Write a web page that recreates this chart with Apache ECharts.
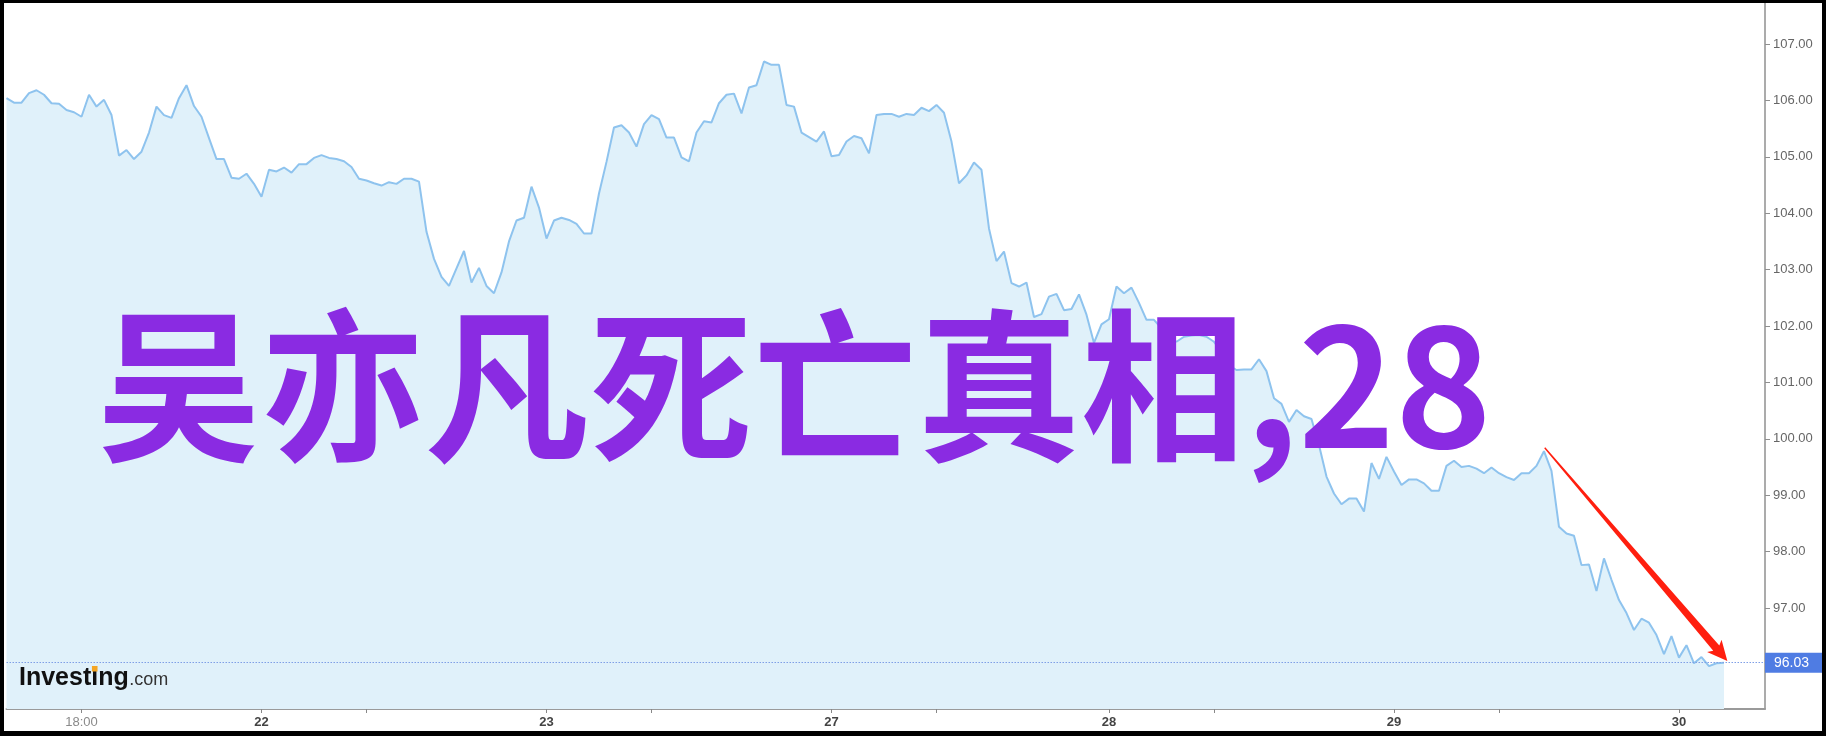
<!DOCTYPE html>
<html>
<head>
<meta charset="utf-8">
<script src="https://cdn.jsdelivr.net/npm/echarts@6/dist/echarts.min.js"></script>
<style>
html,body{margin:0;padding:0;background:#fff;}
#wrap{position:relative;width:1826px;height:736px;overflow:hidden;}
#chart{position:absolute;left:0;top:0;width:1826px;height:736px;}
#frame{position:absolute;left:0;top:0;width:1826px;height:736px;box-sizing:border-box;border-style:solid;border-color:#000;border-width:3px 4px 5px 4px;pointer-events:none;}
</style>
</head>
<body>
<div id="wrap"><div id="chart"></div><div id="frame"></div></div>
<script>
// ---- data ----
const prices = [
106.04,105.96,105.96,106.13,106.18,106.10,105.95,105.94,105.83,105.79,
105.71,106.10,105.89,106.01,105.74,105.02,105.12,104.96,105.09,105.43,
105.89,105.74,105.69,106.04,106.27,105.90,105.71,105.33,104.96,104.96,
104.63,104.61,104.70,104.52,104.29,104.77,104.74,104.81,104.72,104.87,
104.87,104.98,105.03,104.98,104.96,104.92,104.82,104.61,104.58,104.53,
104.49,104.55,104.52,104.61,104.61,104.56,103.67,103.19,102.87,102.71,
103.02,103.33,102.77,103.03,102.71,102.58,102.95,103.50,103.87,103.92,
104.47,104.10,103.55,103.87,103.92,103.88,103.81,103.64,103.64,104.35,
104.91,105.52,105.56,105.43,105.18,105.58,105.74,105.67,105.34,105.34,
104.99,104.92,105.43,105.63,105.61,105.95,106.10,106.12,105.77,106.23,
106.27,106.69,106.63,106.63,105.92,105.89,105.43,105.35,105.27,105.45,
105.01,105.03,105.27,105.37,105.33,105.06,105.74,105.76,105.76,105.71,
105.76,105.74,105.87,105.81,105.92,105.78,105.27,104.53,104.67,104.90,
104.77,103.73,103.15,103.32,102.76,102.70,102.77,102.16,102.21,102.52,
102.57,102.28,102.30,102.56,102.20,101.70,102.03,102.12,102.70,102.58,
102.68,102.41,102.11,102.11,101.96,101.81,101.72,101.81,101.83,101.84,
101.81,101.72,101.55,101.30,101.22,101.23,101.23,101.41,101.20,100.72,
100.62,100.30,100.51,100.40,100.35,99.89,99.33,99.03,98.84,98.94,
98.94,98.71,99.57,99.29,99.68,99.42,99.18,99.28,99.28,99.21,
99.08,99.08,99.52,99.61,99.50,99.52,99.47,99.39,99.49,99.39,
99.32,99.27,99.39,99.39,99.52,99.78,99.43,98.44,98.32,98.28,
97.76,97.77,97.30,97.88,97.50,97.14,96.91,96.61,96.81,96.74,
96.52,96.18,96.50,96.12,96.34,96.02,96.13,95.97,96.02,96.03
];
const lastPrice = 96.03;
const xLabelIdx = [10, 34, 72, 110, 147, 185, 223];
const xLabelText = ['18:00', '22', '23', '27', '28', '29', '30'];
const xMinorTickIdx = [48, 86, 124, 161, 199];
const yTicks = [97, 98, 99, 100, 101, 102, 103, 104, 105, 106, 107];
const titleText = '吴亦凡死亡真相,28';
const arrowFrom = [205.1, 99.84];
const arrowTo = [229.45, 96.06];

const seriesData = prices.map((v, i) => [i, v]);
const xTickAll = xLabelIdx.concat(xMinorTickIdx).sort((a, b) => a - b);
const labelMap = {};
xLabelIdx.forEach((idx, k) => { labelMap[idx] = xLabelText[k]; });

const chart = echarts.init(document.getElementById('chart'), null, {width: 1826, height: 736});

// measure logo text
const cv = document.createElement('canvas').getContext('2d');
cv.font = 'bold 25px "Liberation Sans", Arial, sans-serif';
const wInvesting = cv.measureText('Investing').width;
const wInvest = cv.measureText('Invest').width;
const wI = cv.measureText('i').width;

const option = {
  animation: false,
  backgroundColor: '#ffffff',
  grid: {left: 6.5, right: 61, top: 3, bottom: 27},
  xAxis: {
    type: 'value',
    min: 0,
    max: 234.47,
    splitLine: {show: false},
    axisLine: {show: true, onZero: false, lineStyle: {color: '#9a9a9a', width: 2}},
    axisTick: {show: true, customValues: xTickAll, length: 4, lineStyle: {color: '#888', width: 1}},
    axisLabel: {
      show: true,
      customValues: xLabelIdx,
      margin: 7,
      formatter: function (v) {
        const t = labelMap[Math.round(v)] || '';
        return t.indexOf(':') >= 0 ? '{t|' + t + '}' : '{d|' + t + '}';
      },
      rich: {
        t: {color: '#8a8a8a', fontSize: 13, fontFamily: '"Liberation Sans", Arial, sans-serif'},
        d: {color: '#444', fontSize: 13, fontWeight: 'bold', fontFamily: '"Liberation Sans", Arial, sans-serif'}
      }
    }
  },
  yAxis: {
    type: 'value',
    position: 'right',
    min: 95.209,
    max: 107.727,
    scale: true,
    splitLine: {show: false},
    axisLine: {show: true, onZero: false, lineStyle: {color: '#8f8f8f', width: 1.5}},
    axisTick: {show: true, customValues: yTicks, length: 5, lineStyle: {color: '#8f8f8f'}},
    axisLabel: {
      show: true,
      customValues: yTicks,
      margin: 8,
      color: '#666',
      fontSize: 13,
      fontFamily: '"Liberation Sans", Arial, sans-serif',
      formatter: v => v.toFixed(2)
    }
  },
  series: [{
    type: 'line',
    data: seriesData,
    showSymbol: false,
    symbol: 'none',
    lineStyle: {color: '#8ec3ee', width: 2},
    areaStyle: {color: '#e0f1fa', opacity: 1, origin: 'start'},
    markLine: {
      silent: true,
      symbol: 'none',
      data: [{yAxis: lastPrice}],
      lineStyle: {type: [1.5, 1.5], color: '#7f9fe6', width: 1},
      label: {
        show: true,
        position: 'end',
        distance: 0,
        formatter: lastPrice.toFixed(2),
        backgroundColor: '#4f7ce3',
        color: '#fff',
        fontSize: 14,
        fontFamily: '"Liberation Sans", Arial, sans-serif',
        padding: [3, 14, 3, 9]
      }
    }
  }]
};
chart.setOption(option);

// arrow via axis scales
const p0 = chart.convertToPixel({gridIndex: 0}, arrowFrom);
const p1 = chart.convertToPixel({gridIndex: 0}, arrowTo);
const dx = p1[0] - p0[0], dy = p1[1] - p0[1];
const len = Math.sqrt(dx * dx + dy * dy);
const ux = dx / len, uy = dy / len, nx = -uy, ny = ux;
const headLen = 17, headHalf = 9.5, w0 = 0.7, w1 = 4;
const bx = p1[0] - ux * headLen, by = p1[1] - uy * headLen;
const arrowPts = [
  [p0[0] + nx * w0, p0[1] + ny * w0],
  [bx + nx * w1, by + ny * w1],
  [bx - ux * 3 + nx * headHalf, by - uy * 3 + ny * headHalf],
  [p1[0], p1[1]],
  [bx - ux * 3 - nx * headHalf, by - uy * 3 - ny * headHalf],
  [bx - nx * w1, by - ny * w1],
  [p0[0] - nx * w0, p0[1] - ny * w0]
];

chart.setOption({
  graphic: [
    {
      type: 'text', z: 50, x: 97, y: 386,
      style: {
        text: titleText,
        fill: '#8a2be2',
        fontSize: 164,
        fontWeight: 'bold',
        fontFamily: '"Noto Sans CJK SC", sans-serif',
        verticalAlign: 'middle',
        align: 'left'
      }
    },
    {
      type: 'polygon', z: 60,
      shape: {points: arrowPts},
      style: {fill: '#ff1f0f'}
    },
    {
      type: 'text', z: 40, x: 19, y: 678,
      style: {
        text: 'Investing', fill: '#111', fontSize: 25, fontWeight: 'bold',
        fontFamily: '"Liberation Sans", Arial, sans-serif', verticalAlign: 'middle'
      }
    },
    {
      type: 'text', z: 40, x: 19 + wInvesting + 0.5, y: 680,
      style: {
        text: '.com', fill: '#333', fontSize: 18,
        fontFamily: '"Liberation Sans", Arial, sans-serif', verticalAlign: 'middle'
      }
    },
    {
      type: 'rect', z: 41,
      shape: {x: 19 + wInvest + wI / 2 - 2.8, y: 666, width: 5.6, height: 5.5},
      style: {fill: '#f5a623'}
    }
  ]
});
</script>
</body>
</html>
